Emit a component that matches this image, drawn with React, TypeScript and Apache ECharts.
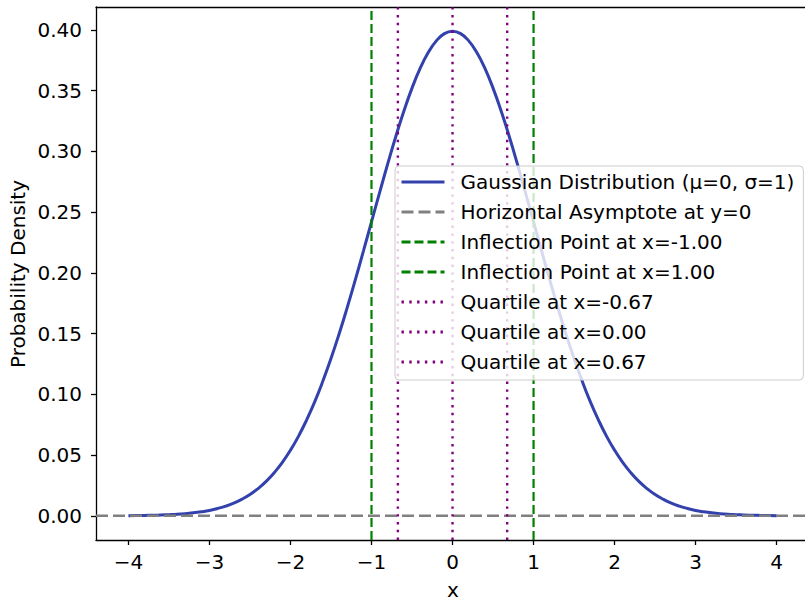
import React, { useEffect, useRef } from "react";
import * as echarts from "echarts";

const xValues = [
  -4.0, -3.9, -3.8, -3.7, -3.6, -3.5, -3.4, -3.3, -3.2, -3.1,
  -3.0, -2.9, -2.8, -2.7, -2.6, -2.5, -2.4, -2.3, -2.2, -2.1,
  -2.0, -1.9, -1.8, -1.7, -1.6, -1.5, -1.4, -1.3, -1.2, -1.1,
  -1.0, -0.9, -0.8, -0.7, -0.6, -0.5, -0.4, -0.3, -0.2, -0.1,
  0.0, 0.1, 0.2, 0.3, 0.4, 0.5, 0.6, 0.7, 0.8, 0.9,
  1.0, 1.1, 1.2, 1.3, 1.4, 1.5, 1.6, 1.7, 1.8, 1.9,
  2.0, 2.1, 2.2, 2.3, 2.4, 2.5, 2.6, 2.7, 2.8, 2.9,
  3.0, 3.1, 3.2, 3.3, 3.4, 3.5, 3.6, 3.7, 3.8, 3.9, 4.0,
];
const densityValues = [
  0.0001, 0.0002, 0.0003, 0.0004, 0.0006, 0.0009, 0.0012, 0.0017, 0.0024, 0.0033,
  0.0044, 0.006, 0.0079, 0.0104, 0.0136, 0.0175, 0.0224, 0.0283, 0.0355, 0.044,
  0.054, 0.0656, 0.079, 0.094, 0.1109, 0.1295, 0.1497, 0.1714, 0.1942, 0.2179,
  0.242, 0.2661, 0.2897, 0.3123, 0.3332, 0.3521, 0.3683, 0.3814, 0.391, 0.397,
  0.3989, 0.397, 0.391, 0.3814, 0.3683, 0.3521, 0.3332, 0.3123, 0.2897, 0.2661,
  0.242, 0.2179, 0.1942, 0.1714, 0.1497, 0.1295, 0.1109, 0.094, 0.079, 0.0656,
  0.054, 0.044, 0.0355, 0.0283, 0.0224, 0.0175, 0.0136, 0.0104, 0.0079, 0.006,
  0.0044, 0.0033, 0.0024, 0.0017, 0.0012, 0.0009, 0.0006, 0.0004, 0.0003, 0.0002, 0.0001,
];
const inflectionPoints = [-1.0, 1.0];
const quartiles = [-0.6745, 0.0, 0.6745];
const asymptoteY = 0;
const xTicks = [-4, -3, -2, -1, 0, 1, 2, 3, 4];
const yTicks = [0, 0.05, 0.1, 0.15, 0.2, 0.25, 0.3, 0.35, 0.4];

const X_MIN = -4.4;
const X_MAX = 4.35;
const Y_MIN = -0.01995;
const Y_MAX = 0.4189;

const FONT = "DejaVu Sans";
const FS = 20;

export default function App() {
  const ref = useRef<HTMLDivElement>(null);
  useEffect(() => {
    if (!ref.current) return;
    const chart = echarts.init(ref.current, undefined, { renderer: "svg" });
    const gauss = xValues.map((x, i) => [x, densityValues[i]]);
    const series: any[] = [
      {
        name: "Gaussian Distribution (μ=0, σ=1)",
        type: "line",
        data: gauss,
        showSymbol: false,
        symbol: "none",
        smooth: true,
        lineStyle: { color: "#3341ad", width: 3 },
        itemStyle: { color: "#3341ad" },
        z: 2,
      },
      {
        name: "Horizontal Asymptote at y=0",
        type: "line",
        data: [
          [X_MIN, asymptoteY],
          [X_MAX, asymptoteY],
        ],
        symbol: "none",
        lineStyle: { color: "#808080", width: 2.4, type: [12, 5] },
        itemStyle: { color: "#808080" },
        z: 3,
      },
    ];
    inflectionPoints.forEach((p) => {
      series.push({
        name: `Inflection Point at x=${p.toFixed(2)}`,
        type: "line",
        data: [
          [p, Y_MIN],
          [p, Y_MAX],
        ],
        symbol: "none",
        lineStyle: { color: "#008000", width: 2.2, type: [9, 4] },
        itemStyle: { color: "#008000" },
        z: 3,
      });
    });
    quartiles.forEach((q) => {
      series.push({
        name: `Quartile at x=${q.toFixed(2)}`,
        type: "line",
        data: [
          [q, Y_MIN],
          [q, Y_MAX],
        ],
        symbol: "none",
        lineStyle: { color: "#800080", width: 2.4, type: [2.4, 5.4] },
        itemStyle: { color: "#800080" },
        z: 3,
      });
    });

    const axisBase = {
      axisLine: { show: true, onZero: false, lineStyle: { color: "#000", width: 1.3 } },
      axisTick: { show: true, inside: false, length: 5, lineStyle: { color: "#000", width: 1.3 } },
      splitLine: { show: false },
    };

    chart.setOption({
      animation: false,
      backgroundColor: "#fff",
      textStyle: { fontFamily: FONT },
      grid: { left: 96, right: 0, top: 7, bottom: 61, containLabel: false },
      xAxis: [
        {
          type: "value",
          min: X_MIN,
          max: X_MAX,
          ...axisBase,
          axisTick: { ...axisBase.axisTick, customValues: xTicks },
          axisLabel: {
            customValues: xTicks,
            margin: 12,
            color: "#000",
            fontFamily: FONT,
            fontSize: FS,
            formatter: (v: number) => String(v).replace("-", "\u2212"),
          },
        },
        {
          type: "value",
          position: "top",
          min: X_MIN,
          max: X_MAX,
          axisLine: { show: true, onZero: false, lineStyle: { color: "#000", width: 1.3 } },
          axisTick: { show: false },
          axisLabel: { show: false },
          splitLine: { show: false },
        },
      ],
      yAxis: {
        type: "value",
        min: Y_MIN,
        max: Y_MAX,
        ...axisBase,
        axisTick: { ...axisBase.axisTick, customValues: yTicks },
        axisLabel: {
          customValues: yTicks,
          margin: 14,
          color: "#000",
          fontFamily: FONT,
          fontSize: FS,
          formatter: (v: number) => v.toFixed(2),
        },
      },
      legend: {
        orient: "vertical",
        left: 395,
        top: 166,
        backgroundColor: "rgba(255,255,255,0.8)",
        borderColor: "#cccccc",
        borderWidth: 1,
        borderRadius: 4,
        padding: [6, 9, 8, 5],
        itemWidth: 43,
        itemHeight: 14,
        itemGap: 10,
        itemStyle: { opacity: 0 },
        lineStyle: { width: 3 },
        textStyle: { fontFamily: FONT, fontSize: FS, color: "#000", padding: [0, 0, 0, 11] },
        data: series.map((s) => s.name),
      },
      graphic: [
        {
          type: "text",
          x: 453,
          y: 590,
          style: { text: "x", fontFamily: FONT, fontSize: FS, fill: "#000", align: "center", verticalAlign: "middle" },
        },
        {
          type: "text",
          x: 18,
          y: 274,
          rotation: Math.PI / 2,
          style: {
            text: "Probability Density",
            fontFamily: FONT,
            fontSize: FS,
            fill: "#000",
            align: "center",
            verticalAlign: "middle",
          },
        },
      ],
      series,
    });
    return () => chart.dispose();
  }, []);
  return (
    <div
      ref={ref}
      style={{ position: "absolute", left: 0, top: 0, width: 805, height: 601 }}
    />
  );
}
